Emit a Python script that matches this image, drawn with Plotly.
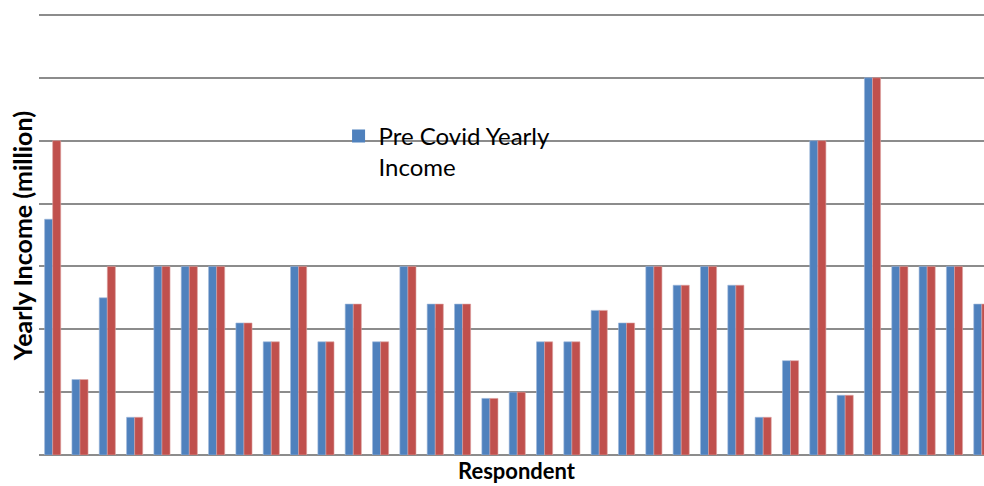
import plotly.graph_objects as go

respondents = [str(i) for i in range(1, 36)]
pre_covid = [3.75, 1.2, 2.5, 0.6, 3, 3, 3, 2.1, 1.8, 3, 1.8, 2.4, 1.8, 3, 2.4, 2.4, 0.9,
             1.0, 1.8, 1.8, 2.3, 2.1, 3, 2.7, 3, 2.7, 0.6, 1.5, 5, 0.95, 6, 3, 3, 3, 2.4]
post_covid = [5, 1.2, 3, 0.6, 3, 3, 3, 2.1, 1.8, 3, 1.8, 2.4, 1.8, 3, 2.4, 2.4, 0.9,
              1.0, 1.8, 1.8, 2.3, 2.1, 3, 2.7, 3, 2.7, 0.6, 1.5, 5, 0.95, 6, 3, 3, 3, 2.4]

FONT = "Lato"
BLUE = "#4F81BD"
RED = "#C0504D"

fig = go.Figure()
fig.add_trace(go.Bar(x=respondents, y=pre_covid, name="Pre Covid Yearly Income",
                     showlegend=False, legendgroup="pre",
                     marker=dict(color=BLUE, line=dict(color="#9db7da", width=0.6))))
fig.add_trace(go.Bar(x=respondents, y=post_covid, name="Post Covid Yearly Income",
                     showlegend=False,
                     marker=dict(color=RED, line=dict(color="#dba3a1", width=0.6))))
# legend entry for the blue series (larger square symbol as in the reference)
fig.add_trace(go.Scatter(x=[None], y=[None], mode="markers", legendgroup="pre",
                         name="Pre Covid Yearly<br>Income",
                         marker=dict(symbol="square", size=13, color=BLUE)))

fig.update_layout(
    width=984, height=486,
    margin=dict(l=39, r=0, t=13, b=31),
    paper_bgcolor="white", plot_bgcolor="white",
    barmode="group", bargap=0.41, bargroupgap=0,
    font=dict(family=FONT, color="black"),
    showlegend=True,
    legend=dict(x=0.317, y=0.772, xanchor="left", yanchor="top",
                bgcolor="rgba(0,0,0,0)", font=dict(size=24, family=FONT),
                valign="top", itemwidth=30),
    xaxis=dict(range=[-0.5, 34.08], showticklabels=False, ticks="", showgrid=False,
               zeroline=False, showline=False),
    yaxis=dict(range=[0, 7.03], dtick=1, showticklabels=False, ticks="",
               showgrid=True, gridcolor="#8c8c8c", gridwidth=1.5,
               zeroline=True, zerolinecolor="#8c8c8c", zerolinewidth=1.5,
               showline=False),
    annotations=[
        dict(text="<b>Yearly Income (million)</b>", textangle=-90,
             xref="paper", yref="paper", x=-0.018, y=0.495,
             xanchor="center", yanchor="middle", showarrow=False,
             font=dict(size=25, family=FONT)),
        dict(text="<b>Respondent</b>", xref="paper", yref="paper",
             x=0.506, y=-0.036, xanchor="center", yanchor="middle", showarrow=False,
             font=dict(size=22, family=FONT)),
    ],
)

fig.write_html("out.html")
